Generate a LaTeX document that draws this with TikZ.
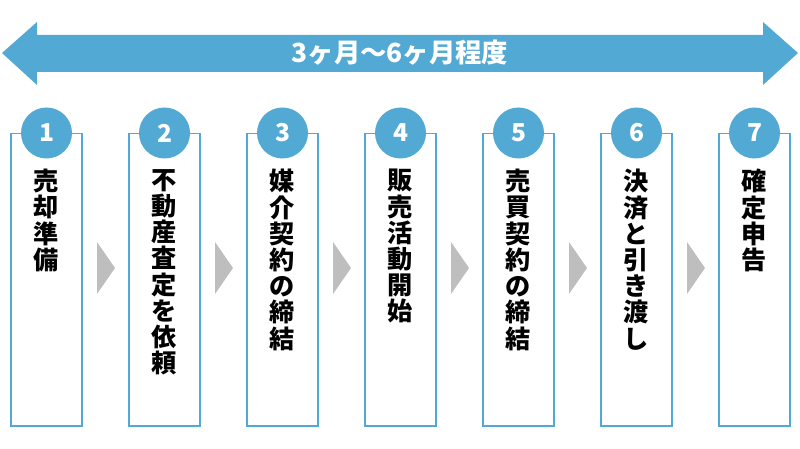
\documentclass[tikz,border=0pt]{standalone}
\usepackage{fontspec}
\setmainfont{Noto Sans CJK JP}
\usetikzlibrary{positioning}
\definecolor{sky}{RGB}{82,169,211}
\definecolor{chevron}{RGB}{190,190,190}
\tikzset{
  stepcard/.style={draw=sky,line width=0.45mm,fill=white,minimum width=21.3mm,minimum height=87.6mm,anchor=north,inner sep=0},
  stepnum/.style={circle,fill=sky,minimum size=15.3mm,inner sep=0,text=white,font=\bfseries\fontsize{21}{24}\selectfont},
  steptext/.style={anchor=north,inner sep=0,align=center,font=\bfseries\fontsize{21.5}{22.4}\selectfont}
}

\begin{document}
\begin{tikzpicture}[x=0.3mm,y=-0.3mm]
  \useasboundingbox (0,0) rectangle (800,449);
  % period arrow
  \fill[sky] (2,53) -- (37,22) -- (37,35) -- (763,35) -- (763,22) -- (798,53)
    -- (763,85) -- (763,72) -- (37,72) -- (37,85) -- cycle;
  \node[text=white,font=\bfseries\fontsize{22.5}{26}\selectfont] (span) at (400,53) {3ヶ月～6ヶ月程度};
  % steps
  \foreach \t [count=\i] in {{売\\却\\準\\備},{不\\動\\産\\査\\定\\を\\依\\頼},{媒\\介\\契\\約\\の\\締\\結},
      {販\\売\\活\\動\\開\\始},{売\\買\\契\\約\\の\\締\\結},{決\\済\\と\\引\\き\\渡\\し},{確\\定\\申\\告}}{
    \node[stepcard] (card\i) at (-71.5+\i*118,133) {};
    \node[stepnum] (num\i) at (card\i.north) {\i};
    \node[steptext] (label\i) at (-71.5+\i*118,169) {\t};
  }
  % chevrons between cards
  \foreach \i in {1,...,6}{
    \fill[chevron] (-21+\i*118,242) -- (-3+\i*118,268) -- (-21+\i*118,294) -- cycle;
  }
\end{tikzpicture}
\end{document}
